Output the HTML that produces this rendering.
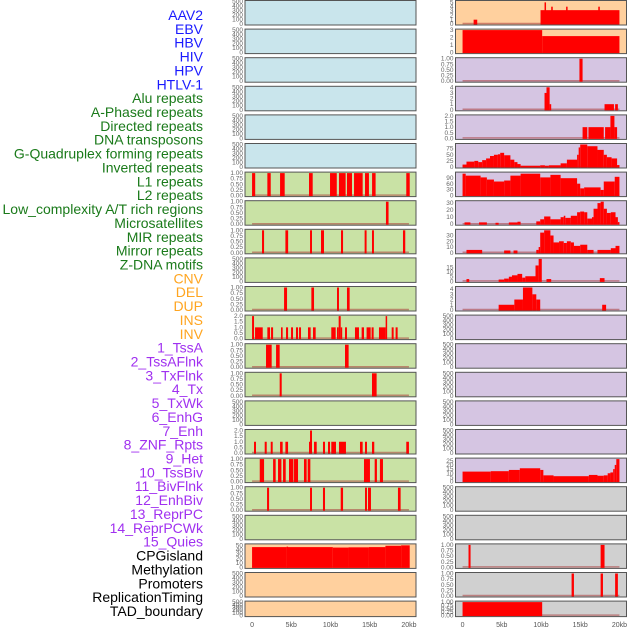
<!DOCTYPE html>
<html><head><meta charset="utf-8"><style>
html,body{margin:0;padding:0;background:#fff;}
svg{display:block;font-family:"Liberation Sans",sans-serif;}
</style></head><body>
<svg id="chart" width="630" height="630" viewBox="0 0 630 630" xmlns="http://www.w3.org/2000/svg"></svg>
<script>
const trackLabels = ["AAV2","EBV","HBV","HIV","HPV","HTLV-1","Alu repeats","A-Phased repeats","Directed repeats","DNA transposons","G-Quadruplex forming repeats","Inverted repeats","L1 repeats","L2 repeats","Low_complexity A/T rich regions","Microsatellites","MIR repeats","Mirror repeats","Z-DNA motifs","CNV","DEL","DUP","INS","INV","1_TssA","2_TssAFlnk","3_TxFlnk","4_Tx","5_TxWk","6_EnhG","7_Enh","8_ZNF_Rpts","9_Het","10_TssBiv","11_BivFlnk","12_EnhBiv","13_ReprPC","14_ReprPCWk","15_Quies","CPGisland","Methylation","Promoters","ReplicationTiming","TAD_boundary"];
const labelGroups = [6,13,5,15,5];
const xTickValues = [0,5,10,15,20];
const xTickLabels = ["0","5kb","10kb","15kb","20kb"];
const ticksEmpty = [0,100,200,300,400,500];
const ticksBinary = [0,0.25,0.5,0.75,1];
const ticksTwo = [0,0.5,1,1.5,2];
// segment data: [startKb, endKb, value]
const L6 = [[0,0.4,1],[1.95,2.38,1],[3.57,4.16,1],[7.26,7.73,1],[9.94,10.8,1],[11.08,11.93,1],[12.1,12.74,1],[13,14.1,1],[14.4,14.9,1],[15.3,15.75,1],[19.66,20.1,1]];
const L7 = [[17.07,17.4,1]];
const L8 = [[1.27,1.53,1],[4.25,4.6,1],[7.39,7.64,1],[8.79,9.17,1],[11.34,11.6,1],[14.35,14.6,1],[15.29,15.54,1],[19.24,19.53,1]];
const L10 = [[4.08,4.46,1],[7.56,7.9,1],[10.83,11.08,1],[12.1,12.44,1]];
const L11 = [[0,0.25,2],[0.38,1.36,1],[1.95,2.29,1],[2.42,2.68,1],[3.69,3.9,1],[4.33,4.59,1],[4.97,5.22,1],[5.6,5.86,1],[5.99,6.24,1],[7.13,7.47,1],[7.77,8.11,1],[10.1,10.66,1],[10.83,11.04,1],[11.04,11.3,2],[11.3,11.42,1],[11.85,12.1,1],[13.12,13.63,1],[13.97,14.27,1],[14.6,15.12,1],[15.24,15.5,1],[16.18,17.03,1],[17.03,17.2,2],[17.8,18.05,1],[18.3,18.56,1]];
const L12 = [[1.78,2.5,1],[3.06,3.52,1],[11.85,12.31,1]];
const L13 = [[3.52,3.78,1],[15.29,15.88,1]];
const L15 = [[0.25,0.5,1],[1.61,1.87,1],[2.38,2.63,1],[3.57,3.9,1],[4.25,4.59,1],[7.26,7.39,1],[7.39,7.64,2],[7.9,8.24,1],[9.04,9.3,1],[9.68,9.94,1],[10.1,10.7,1],[11.08,11.97,1],[13.76,14.1,1],[14.4,14.65,1],[15.29,15.58,1],[19.66,20,1]];
const L16 = [[0.98,1.53,1],[2.68,3.01,1],[3.31,3.74,1],[3.95,4.29,1],[4.71,5.27,1],[5.35,5.86,1],[6.62,6.96,1],[7.09,7.43,1],[14.27,15.03,1],[15.63,15.92,1],[16.3,16.69,1]];
const L17 = [[1.91,2.17,1],[7.39,7.64,1],[9.04,9.3,1],[11.3,11.6,1],[14.4,14.65,1],[14.78,15.16,1],[18.6,18.94,1]];
const L19 = [[0,4.4,46],[4.4,4.5,47],[4.5,10.3,46],[10.3,12.3,45],[12.3,14.9,45.5],[14.9,17,46],[17,19,49],[19,20.1,50]];
const R0 = [[1.41,1.87,1],[9.94,20,3.2],[10.45,10.6,5],[11.3,11.5,4],[13.2,13.35,4],[17.3,17.5,4]];
const R1 = [[0,10.15,3],[10.15,20,2.2]];
const R2 = [[14.9,15.3,1]];
const R3 = [[10.45,10.7,3],[10.7,11.1,4],[11.1,11.3,1],[18.1,19.3,1],[19.45,19.8,1]];
const R4 = [[15.3,15.9,1],[16.05,18,1],[18.17,18.85,1],[18.85,19.36,2],[19.36,19.7,1]];
const R5 = [[0,0.5,10],[0.5,1.5,22],[1.5,2,25],[2,2.5,20],[2.5,3,28],[3,3.5,35],[3.5,4,45],[4,4.5,50],[4.5,4.8,52],[4.8,5.3,58],[5.3,6.1,48],[6.1,6.6,30],[6.6,7,20],[7,7.4,12],[7.4,9.9,5],[9.9,10.5,7],[10.5,11,5],[11,12.5,7],[12.5,13.3,15],[13.3,14.6,30],[14.6,14.8,50],[14.8,15,80],[15,15.9,92],[15.9,17.2,85],[17.2,18,70],[18,18.4,50],[18.4,19,40],[19,19.7,35],[19.7,20,8]];
const R6 = [[0,0.4,112],[0.4,2.3,102],[2.3,3.1,93],[3.1,4,82],[4,5.3,72],[5.3,6.1,77],[6.1,7.4,102],[7.4,9.9,112],[9.9,11.2,93],[11.2,12.5,106],[12.5,14.6,89],[14.6,15,61],[15,15.5,37],[15.5,17.6,42],[17.6,18,29],[18,19.4,72],[19.4,20,96]];
const R7 = [[0.25,1,2.6],[2.1,3.1,2.6],[4.2,4.6,2],[5.9,7,2.5],[7,7.4,3.5],[9.4,9.9,4],[9.9,10.4,7],[10.4,11.2,11],[11.2,12.5,7],[12.5,12.9,10],[12.9,13.1,12],[13.1,13.8,9],[13.8,14.6,12],[14.6,15,17],[15,15.5,18],[15.5,15.9,17],[15.9,16.5,8],[16.5,16.7,10],[16.7,17.2,22],[17.2,17.6,30],[17.6,18,32],[18,18.4,22],[18.4,18.9,16],[18.9,19.5,17],[19.5,19.8,10],[19.8,20,3]];
const R8 = [[0.5,2.5,5],[5.3,6.1,4],[6.5,7,4],[9.4,9.7,5],[9.7,9.9,10],[9.9,10.4,35],[10.4,11.2,39],[11.2,11.6,30],[11.6,12.3,18],[12.3,12.9,20],[12.9,13.3,17],[13.3,13.8,20],[13.8,14.2,18],[14.2,15,12],[15,15.9,14],[15.9,16.7,5],[17.2,18.9,5],[18.9,19.5,8],[19.5,20,12]];
const R9 = [[0.5,0.85,2.5],[4.6,5.3,2],[5.3,5.9,3],[5.9,6.3,5],[6.3,7,6.5],[7,7.6,8],[7.6,8,4],[8,9.3,5.5],[9.3,9.7,17],[9.7,10.1,24],[10.7,11.3,2.5],[17.5,18.1,3.5]];
const R10 = [[4.6,6.6,1],[6.6,7.7,2],[7.7,8.9,4.3],[8.9,9.4,3],[9.4,9.9,2],[17.8,18.3,1]];
const R16 = [[0,3.6,12],[3.6,5.9,12.5],[5.9,7.3,14],[7.3,9.9,16],[9.9,10.3,14],[10.3,11.6,7.5],[11.6,16.1,6.5],[16.1,17.2,8],[17.2,18,7],[18,18.5,7.5],[18.5,18.85,10],[18.85,19.2,11],[19.2,19.4,15],[19.4,19.6,20],[19.6,20,27]];
const R19 = [[0.76,1.02,1],[17.6,18.1,1]];
const R20 = [[13.9,14.2,1],[17.6,17.9,1],[19.45,19.8,1]];
const R21 = [[0,10.15,1]];

const BG = {blue:"#c9e5ec",green:"#c9e2a5",peach:"#ffd09e",purple:"#d5c5e2",gray:"#d0d0d0"};
function P(bg,ticks,ymax,data,fmt){return {bg:bg,ticks:ticks,ymax:ymax,data:data,fmt:fmt||0};}
const E = ticksEmpty, B = ticksBinary;
const leftCol = [
 P('blue',E,500,null),P('blue',E,500,null),P('blue',E,500,null),P('blue',E,500,null),P('blue',E,500,null),P('blue',E,500,null),
 P('green',B,1,L6,2),P('green',B,1,L7,2),P('green',B,1,L8,2),P('green',E,500,null),P('green',B,1,L10,2),
 P('green',ticksTwo,2,L11,1),P('green',B,1,L12,2),P('green',B,1,L13,2),P('green',E,500,null),P('green',ticksTwo,2,L15,1),
 P('green',B,1,L16,2),P('green',B,1,L17,2),P('green',E,500,null),P('peach',[0,10,20,30,40,50],51,L19),
 P('peach',E,500,null),P('peach',E,500,null)];
const rightCol = [
 P('peach',[0,1,2,3,4,5],5.2,R0),P('peach',[0,1,2,3],3,R1),P('purple',B,1,R2,2),P('purple',[0,1,2,3,4],4,R3),
 P('purple',ticksTwo,2,R4,1),P('purple',[0,25,50,75],92,R5),P('purple',[0,30,60,90],115,R6),P('purple',[0,10,20,30],32,R7),
 P('purple',[0,10,20,30],39,R8),P('purple',[0,5,10,15],24,R9),P('purple',[0,1,2,3,4],4.3,R10),
 P('purple',E,500,null),P('purple',E,500,null),P('purple',E,500,null),P('purple',E,500,null),P('purple',E,500,null),
 P('purple',[0,5,10,15,20,25],27,R16),P('gray',E,500,null),P('gray',E,500,null),P('gray',B,1,R19,2),P('gray',B,1,R20,2),P('gray',B,1,R21,2)];

const NS="http://www.w3.org/2000/svg";
const svg=document.getElementById('chart');
function mk(t,a){const e=document.createElementNS(NS,t);for(const k in a)e.setAttribute(k,a[k]);return e;}
const colX0=[245,455.5], colW=171;
function xs(col,kb){return colX0[col]+(kb+0.9)/21.8*colW;}
function rowTop(i){return i*28.6+0.5;}
function rowH(i){return i===21?15.5:24.5;}

// labels
const groupColors=["#1a1aff","#1a7a1a","#ffa520","#a030f0","#000000"];
let gi=0,gc=0;
trackLabels.forEach((name,i)=>{
  while(gc>=labelGroups[gi]){gi++;gc=0;}
  gc++;
  const t=mk('text',{x:203,y:20+i*13.86,'text-anchor':'end','font-size':'14',fill:groupColors[gi]});
  
  
  t.textContent=name;svg.appendChild(t);
});

function drawPanel(col,i,p){
  const g=mk('g',{});
  
  
  const T=rowTop(i),H=rowH(i),X=colX0[col];
  const bot=T+H-1;
  const ys=v=>bot-v/p.ymax*(H-2);
  const bg=mk('rect',{x:X,y:T,width:colW,height:H,fill:BG[p.bg],stroke:'#555',"stroke-width":1});
  
  
  g.appendChild(bg);
  if(p.data){
    const base=mk('line',{x1:xs(col,0),x2:xs(col,20),y1:bot-0.5,y2:bot-0.5,stroke:'rgba(170,60,60,0.55)','stroke-width':1.5});
    
    
    g.appendChild(base);
    p.data.forEach(d=>{
      const x1=xs(col,d[0]),x2=xs(col,d[1]);
      const y1=Math.max(T+0.5,ys(d[2]));
      const r=mk('rect',{x:x1,y:y1,width:Math.max(1.5,x2-x1),height:bot-y1+0.5,fill:'#ff0000'});
      
      
      g.appendChild(r);
    });
  }
  p.ticks.forEach(v=>{
    const lbl=p.fmt?v.toFixed(p.fmt):String(v);
    const t=mk('text',{x:X-2,y:ys(v)+2,'text-anchor':'end','font-size':'6.5',fill:'#666'});
    
    
    t.textContent=lbl;g.appendChild(t);
  });
  svg.appendChild(g);
}
leftCol.forEach((p,i)=>drawPanel(0,i,p));
rightCol.forEach((p,i)=>drawPanel(1,i,p));

[0,1].forEach(col=>{
  xTickValues.forEach((v,k)=>{
    const t=mk('text',{x:xs(col,v),y:627,'text-anchor':'middle','font-size':'7',fill:'#555'});
    
    
    t.textContent=xTickLabels[k];svg.appendChild(t);
  });
});
</script>
</body></html>
